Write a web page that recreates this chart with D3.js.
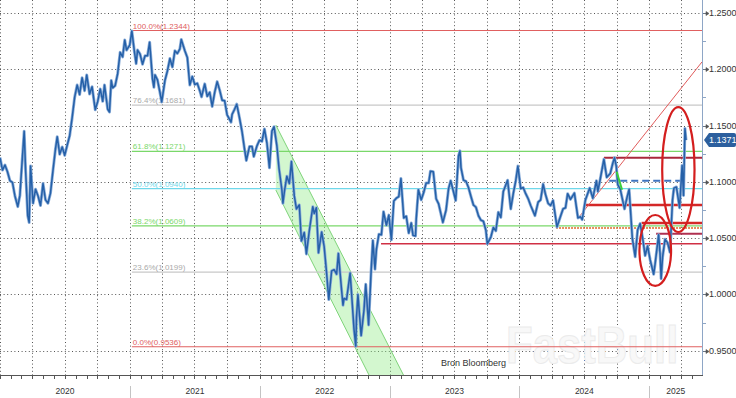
<!DOCTYPE html>
<html>
<head>
<meta charset="utf-8">
<script src="https://cdn.jsdelivr.net/npm/d3@7"></script>
<style>
  body { margin: 0; background: #fff; }
  svg { display: block; font-family: "Liberation Sans", Arial, sans-serif; }
</style>
</head>
<body>
<div id="chart"></div>
<script>
// EUR/USD, weekly points (plus the obvious spikes)
const rates2020 = [
  ["2020-01-01",1.1215],["2020-01-08",1.1105],["2020-01-15",1.1150],["2020-01-22",1.1090],["2020-01-29",1.1010],
  ["2020-02-05",1.0995],["2020-02-12",1.0875],["2020-02-20",1.0780],["2020-02-26",1.0880],["2020-03-03",1.1170],
  ["2020-03-09",1.1450],["2020-03-13",1.1105],["2020-03-19",1.0700],["2020-03-23",1.0640],["2020-03-27",1.1140],
  ["2020-04-03",1.0810],["2020-04-10",1.0935],["2020-04-17",1.0875],["2020-04-24",1.0790],["2020-05-01",1.0985],
  ["2020-05-08",1.0840],["2020-05-15",1.0810],["2020-05-22",1.0900],["2020-05-29",1.1100],["2020-06-05",1.1290],
  ["2020-06-10",1.1400],["2020-06-17",1.1245],["2020-06-24",1.1310],["2020-07-01",1.1235],["2020-07-08",1.1325],
  ["2020-07-15",1.1410],["2020-07-22",1.1570],["2020-07-29",1.1750],["2020-08-05",1.1860],["2020-08-12",1.1775],
  ["2020-08-19",1.1925],["2020-08-26",1.1810],["2020-09-01",1.1950],["2020-09-09",1.1780],["2020-09-16",1.1845],
  ["2020-09-25",1.1640],["2020-10-02",1.1715],["2020-10-09",1.1825],["2020-10-16",1.1715],["2020-10-21",1.1860],
  ["2020-10-30",1.1645],["2020-11-04",1.1620],["2020-11-09",1.1900],["2020-11-13",1.1835],["2020-11-20",1.1855],
  ["2020-11-27",1.1960],["2020-12-04",1.2150],["2020-12-11",1.2110],["2020-12-17",1.2260],["2020-12-22",1.2170],
  ["2020-12-31",1.2215]
];
const rates2021 = [
  ["2021-01-06",1.2340],["2021-01-13",1.2160],["2021-01-18",1.2050],["2021-01-22",1.2170],["2021-01-29",1.2135],
  ["2021-02-05",1.2045],["2021-02-12",1.2120],["2021-02-19",1.2120],["2021-02-25",1.2240],["2021-03-05",1.1915],
  ["2021-03-09",1.1840],["2021-03-12",1.1950],["2021-03-19",1.1905],["2021-03-26",1.1795],["2021-03-31",1.1710],
  ["2021-04-09",1.1900],["2021-04-16",1.1985],["2021-04-23",1.2095],["2021-04-30",1.2020],["2021-05-07",1.2165],
  ["2021-05-14",1.2140],["2021-05-21",1.2180],["2021-05-25",1.2265],["2021-06-04",1.2165],["2021-06-11",1.2105],
  ["2021-06-18",1.1860],["2021-06-25",1.1935],["2021-07-02",1.1865],["2021-07-09",1.1875],["2021-07-16",1.1810],
  ["2021-07-21",1.1755],["2021-07-30",1.1870],["2021-08-06",1.1760],["2021-08-13",1.1795],["2021-08-20",1.1670],
  ["2021-08-27",1.1795],["2021-09-03",1.1890],["2021-09-10",1.1815],["2021-09-17",1.1725],["2021-09-24",1.1720],
  ["2021-10-01",1.1595],["2021-10-12",1.1530],["2021-10-15",1.1600],["2021-10-22",1.1645],["2021-10-28",1.1690],
  ["2021-11-05",1.1565],["2021-11-12",1.1445],["2021-11-19",1.1290],["2021-11-24",1.1190],["2021-12-03",1.1315],
  ["2021-12-10",1.1315],["2021-12-15",1.1225],["2021-12-24",1.1320],["2021-12-31",1.1370]
];
const rates2022 = [
  ["2022-01-07",1.1360],["2022-01-14",1.1470],["2022-01-21",1.1345],["2022-01-28",1.1125],["2022-02-04",1.1450],
  ["2022-02-10",1.1490],["2022-02-18",1.1320],["2022-02-24",1.1120],["2022-03-04",1.0930],["2022-03-07",1.0810],
  ["2022-03-11",1.0910],["2022-03-18",1.1050],["2022-03-25",1.0985],["2022-03-31",1.1180],["2022-04-08",1.0875],
  ["2022-04-14",1.0760],["2022-04-22",1.0795],["2022-04-28",1.0475],["2022-05-06",1.0550],["2022-05-12",1.0360],
  ["2022-05-20",1.0560],["2022-05-30",1.0780],["2022-06-03",1.0720],["2022-06-09",1.0770],["2022-06-15",1.0370],
  ["2022-06-24",1.0555],["2022-07-01",1.0425],["2022-07-08",1.0185],["2022-07-14",0.9955],["2022-07-22",1.0210],
  ["2022-07-29",1.0220],["2022-08-05",1.0180],["2022-08-10",1.0365],["2022-08-19",1.0040],["2022-08-23",0.9905],
  ["2022-08-26",0.9965],["2022-09-02",0.9955],["2022-09-12",1.0190],["2022-09-16",1.0015],["2022-09-23",0.9690],
  ["2022-09-28",0.9540],["2022-09-30",0.9800],["2022-10-04",0.9999],["2022-10-13",0.9635],["2022-10-21",0.9860],
  ["2022-10-26",1.0090],["2022-11-03",0.9730],["2022-11-10",1.0200],["2022-11-15",1.0480],["2022-11-21",1.0225],
  ["2022-11-25",1.0400],["2022-12-02",1.0535],["2022-12-09",1.0530],["2022-12-15",1.0735],["2022-12-23",1.0615],
  ["2022-12-30",1.0705]
];
const rates2023 = [
  ["2023-01-06",1.0485],["2023-01-13",1.0830],["2023-01-20",1.0855],["2023-01-27",1.0870],["2023-02-02",1.1030],
  ["2023-02-10",1.0680],["2023-02-17",1.0695],["2023-02-24",1.0545],["2023-03-03",1.0635],["2023-03-08",1.0525],
  ["2023-03-15",1.0520],["2023-03-17",1.0670],["2023-03-23",1.0930],["2023-03-31",1.0840],["2023-04-07",1.0905],
  ["2023-04-14",1.0990],["2023-04-21",1.0990],["2023-04-26",1.1095],["2023-05-04",1.1090],["2023-05-12",1.0850],
  ["2023-05-19",1.0805],["2023-05-31",1.0640],["2023-06-09",1.0750],["2023-06-16",1.0940],["2023-06-22",1.1010],
  ["2023-06-30",1.0910],["2023-07-06",1.0835],["2023-07-14",1.1230],["2023-07-18",1.1275],["2023-07-21",1.1125],
  ["2023-07-28",1.1015],["2023-08-04",1.1005],["2023-08-11",1.0950],["2023-08-18",1.0870],["2023-08-25",1.0795],
  ["2023-09-01",1.0775],["2023-09-08",1.0700],["2023-09-15",1.0660],["2023-09-22",1.0650],["2023-09-29",1.0570],
  ["2023-10-03",1.0450],["2023-10-13",1.0510],["2023-10-20",1.0595],["2023-10-27",1.0565],["2023-11-03",1.0730],
  ["2023-11-10",1.0685],["2023-11-17",1.0915],["2023-11-29",1.1015],["2023-12-08",1.0760],["2023-12-15",1.0895],
  ["2023-12-22",1.1010],["2023-12-28",1.1140]
];
const rates2024 = [
  ["2024-01-05",1.0940],["2024-01-12",1.0950],["2024-01-19",1.0895],["2024-01-26",1.0850],["2024-02-02",1.0790],
  ["2024-02-14",1.0700],["2024-02-23",1.0820],["2024-03-01",1.0840],["2024-03-08",1.0980],["2024-03-15",1.0885],
  ["2024-03-22",1.0810],["2024-03-29",1.0790],["2024-04-05",1.0835],["2024-04-16",1.0600],["2024-04-26",1.0695],
  ["2024-05-03",1.0760],["2024-05-10",1.0770],["2024-05-16",1.0895],["2024-05-24",1.0845],["2024-06-04",1.0900],
  ["2024-06-14",1.0680],["2024-06-21",1.0690],["2024-06-26",1.0665],["2024-07-05",1.0840],["2024-07-17",1.0945],
  ["2024-07-26",1.0855],["2024-08-05",1.1010],["2024-08-09",1.0915],["2024-08-16",1.1030],["2024-08-26",1.1200],
  ["2024-09-03",1.1040],["2024-09-13",1.1075],["2024-09-20",1.1165],["2024-09-25",1.1215],["2024-09-30",1.1135],
  ["2024-10-04",1.0975],["2024-10-11",1.0935],["2024-10-23",1.0760],["2024-10-30",1.0860],["2024-11-05",1.0935],
  ["2024-11-14",1.0500],["2024-11-22",1.0335],["2024-11-29",1.0575],["2024-12-06",1.0630],["2024-12-13",1.0500],
  ["2024-12-20",1.0345],["2024-12-27",1.0430]
];
const rates2025 = [
  ["2025-01-03",1.0310],["2025-01-13",1.0180],["2025-01-17",1.0270],["2025-01-27",1.0530],["2025-01-31",1.0360],
  ["2025-02-03",1.0140],["2025-02-07",1.0330],["2025-02-14",1.0490],["2025-02-21",1.0460],["2025-02-28",1.0375],
  ["2025-03-07",1.0835],["2025-03-11",1.0945],["2025-03-18",1.0955],["2025-03-27",1.0770],["2025-04-03",1.1145],
  ["2025-04-07",1.0880],["2025-04-11",1.1475],["2025-04-14",1.1371]
];

// Fibonacci retracement 0.9536 -> 1.2344
const fibLabels = ["100.0%", "76.4%", "61.8%", "50.0%", "38.2%", "23.6%", "0.0%"];
const fibValues = [1.2344, 1.1681, 1.1271, 1.0940, 1.0609, 1.0199, 0.9536];
const fibColors = ["#e06060", "#c8c8c8", "#7ad86a", "#6fd8ea", "#7ad86a", "#c8c8c8", "#e06060"];
const fibStart = "2021-01-06";

const yTicks = [0.95, 1.00, 1.05, 1.10, 1.15, 1.20, 1.25];
const years = ["2020", "2021", "2022", "2023", "2024", "2025"];
const lastPrice = 1.1371;

// 手绘的水平线: [start, end, value, colour, width, dash]
const hLines = [
  ["2024-08-26", "2025-05-29", 1.1214, "#a8283c", 2, null],
  ["2024-09-10", "2025-04-14", 1.1010, "#3f74c0", 2, "7,4"],
  ["2024-07-01", "2025-05-29", 1.0795, "#d42828", 2.5, null],
  ["2024-12-10", "2025-05-29", 1.0635, "#d42828", 2.5, null],
  ["2024-04-14", "2025-05-29", 1.0590, "#e06a30", 2, "1.5,1.5"],
  ["2025-01-20", "2025-05-29", 1.0540, "#b03050", 2, null],
  ["2022-12-08", "2025-05-29", 1.0450, "#d03044", 1.5, null]
];
// green down channel: upper edge and lower edge
const channelTop = [["2022-02-15", 1.1505], ["2023-02-12", 0.9267]];
const channelBottom = [["2022-02-15", 1.0928], ["2022-11-07", 0.9267]];
// thin red up-trend line
const trendLine = [["2024-06-15", 1.0680], ["2025-05-29", 1.2065]];
const greenMark = [["2024-10-01", 1.1090], ["2024-10-16", 1.0930]];
// ellipses as boxes [date from, date to, top value, bottom value]
const ellipses = [
  ["2025-02-06", "2025-05-08", 1.1664, 1.0555],
  ["2024-12-04", "2025-03-03", 1.0706, 1.0076]
];

const W = 736, H = 398;
const plotW = 702, plotH = 375;
const parse = d3.timeParse("%Y-%m-%d");

const data = [...rates2020, ...rates2021, ...rates2022, ...rates2023, ...rates2024, ...rates2025]
  .map(d => ({date: parse(d[0]), value: d[1]}));

const x = d3.scaleTime()
  .domain([parse("2020-01-01"), parse("2025-05-29")])
  .range([0, plotW]);
const y = d3.scaleLinear()
  .domain([0.9285, 1.2615])
  .range([plotH, 0]);

const svg = d3.select("#chart").append("svg")
  .attr("width", W)
  .attr("height", H);

svg.append("defs").append("clipPath").attr("id", "plot")
  .append("rect").attr("width", plotW).attr("height", plotH);

// 网格 (dotted)
const grid = svg.append("g");
grid.selectAll(".hg").data(yTicks).join("line")
  .attr("x1", 0).attr("x2", plotW)
  .attr("y1", d => Math.round(y(d)) + 0.5).attr("y2", d => Math.round(y(d)) + 0.5)
  .attr("stroke", "#555").attr("stroke-dasharray", "1,2.6");
grid.selectAll(".vg").data(x.ticks(d3.timeMonth.every(3))).join("line")
  .attr("x1", d => Math.round(x(d)) + 0.5).attr("x2", d => Math.round(x(d)) + 0.5)
  .attr("y1", 0).attr("y2", plotH)
  .attr("stroke", "#555").attr("stroke-dasharray", "1,2.6");

// watermark (behind everything else), squeezed horizontally
svg.append("text")
  .attr("transform", "translate(506,363) scale(0.84,1)")
  .attr("font-size", 52).attr("font-weight", "bold")
  .attr("fill", "#f8f8f8").attr("stroke", "#ebebeb").attr("stroke-width", 1)
  .text("FastBull");

const plot = svg.append("g").attr("clip-path", "url(#plot)");

// 通道
const pt = p => [x(parse(p[0])), y(p[1])];
const chan = [pt(channelTop[0]), pt(channelTop[1]), pt(channelBottom[1]), pt(channelBottom[0])];
plot.append("path")
  .attr("d", "M" + chan.join("L") + "Z")
  .attr("fill", "rgba(140,235,130,0.38)");
[channelTop, channelBottom].forEach(function (c) {
  plot.append("line")
    .attr("x1", pt(c[0])[0]).attr("y1", pt(c[0])[1])
    .attr("x2", pt(c[1])[0]).attr("y2", pt(c[1])[1])
    .attr("stroke", "#7fd47a").attr("stroke-width", 1);
});

// fib lines + labels
const fx0 = x(parse(fibStart));
fibValues.forEach(function (v, i) {
  plot.append("line")
    .attr("x1", fx0).attr("x2", plotW)
    .attr("y1", y(v)).attr("y2", y(v))
    .attr("stroke", fibColors[i]).attr("stroke-width", 1.2);
  plot.append("text")
    .attr("x", fx0 + 1).attr("y", y(v) - 2)
    .attr("font-size", 8)
    .attr("fill", fibColors[i] === "#c8c8c8" ? "#aaa" : fibColors[i])
    .text(fibLabels[i] + "(" + v.toFixed(4) + ")");
});

// horizontal levels
plot.selectAll(".lvl").data(hLines).join("line")
  .attr("x1", d => x(parse(d[0]))).attr("x2", d => x(parse(d[1])))
  .attr("y1", d => y(d[2])).attr("y2", d => y(d[2]))
  .attr("stroke", d => d[3]).attr("stroke-width", d => d[4])
  .attr("stroke-dasharray", d => d[5]);

plot.append("line")
  .attr("x1", pt(trendLine[0])[0]).attr("y1", pt(trendLine[0])[1])
  .attr("x2", pt(trendLine[1])[0]).attr("y2", pt(trendLine[1])[1])
  .attr("stroke", "#e05a5a").attr("stroke-width", 1);

// price line
const line = d3.line().x(d => x(d.date)).y(d => y(d.value));
plot.append("path").datum(data)
  .attr("d", line).attr("fill", "none")
  .attr("stroke", "#8fb0da").attr("stroke-width", 3).attr("stroke-linejoin", "round");
plot.append("path").datum(data)
  .attr("d", line).attr("fill", "none")
  .attr("stroke", "#2560a8").attr("stroke-width", 1.5).attr("stroke-linejoin", "round");

plot.append("line")
  .attr("x1", pt(greenMark[0])[0]).attr("y1", pt(greenMark[0])[1])
  .attr("x2", pt(greenMark[1])[0]).attr("y2", pt(greenMark[1])[1])
  .attr("stroke", "#3ccf3c").attr("stroke-width", 2);

// 红圈
plot.selectAll(".ell").data(ellipses).join("ellipse")
  .attr("cx", d => (x(parse(d[0])) + x(parse(d[1]))) / 2)
  .attr("cy", d => (y(d[2]) + y(d[3])) / 2)
  .attr("rx", d => (x(parse(d[1])) - x(parse(d[0]))) / 2)
  .attr("ry", d => (y(d[3]) - y(d[2])) / 2)
  .attr("fill", "none").attr("stroke", "#d41e1e").attr("stroke-width", 2.2);

svg.append("text")
  .attr("x", 441).attr("y", 366)
  .attr("font-size", 9).attr("fill", "#333")
  .text("Bron Bloomberg");

// axes frame
svg.append("line")
  .attr("x1", plotW + 0.5).attr("x2", plotW + 0.5).attr("y1", 0).attr("y2", plotH)
  .attr("stroke", "#8ea6c6");
svg.append("line")
  .attr("x1", 0).attr("x2", plotW + 1).attr("y1", plotH + 0.5).attr("y2", plotH + 0.5)
  .attr("stroke", "#555");

// right axis
const yAxis = svg.append("g").attr("transform", "translate(" + (plotW + 1) + ",0)");
const minor = d3.range(0.925, 1.26, 0.025).filter(v => v > y.domain()[0] && v < y.domain()[1]);
yAxis.selectAll(".mt").data(minor).join("line")
  .attr("x1", 0).attr("x2", 3)
  .attr("y1", d => Math.round(y(d)) + 0.5).attr("y2", d => Math.round(y(d)) + 0.5)
  .attr("stroke", "#8ea6c6");
yAxis.selectAll(".tk").data(yTicks).join("path")
  .attr("d", d => { const yy = Math.round(y(d)) + 0.5; return "M0," + yy + "H3M3," + (yy - 2) + "L6," + yy + "L3," + (yy + 2) + "Z"; })
  .attr("fill", "#555").attr("stroke", "#555").attr("stroke-width", 0.6);
yAxis.selectAll(".tl").data(yTicks).join("text")
  .attr("x", 6).attr("y", d => y(d) + 3)
  .attr("font-size", 9).attr("fill", "#333")
  .text(d => d.toFixed(4));

// last price tag
const ly = y(lastPrice);
yAxis.append("path")
  .attr("d", "M1," + ly + "L6," + (ly - 7) + "H31a2,2 0 0 1 2,2V" + (ly + 5) + "a2,2 0 0 1 -2,2H6Z")
  .attr("fill", "#2c5f9e");
yAxis.append("text")
  .attr("x", 6).attr("y", ly + 3)
  .attr("font-size", 9).attr("fill", "#fff")
  .text(lastPrice.toFixed(4));

// bottom axis: month ticks, year separators, year labels
const xAxis = svg.append("g");
xAxis.selectAll(".mt").data(x.ticks(d3.timeMonth.every(1))).join("line")
  .attr("x1", d => Math.round(x(d)) + 0.5).attr("x2", d => Math.round(x(d)) + 0.5)
  .attr("y1", plotH).attr("y2", plotH + 4)
  .attr("stroke", "#555");
const yearStarts = years.map(s => parse(s + "-01-01"));
xAxis.selectAll(".ys").data(yearStarts.slice(1)).join("line")
  .attr("x1", d => Math.round(x(d)) + 0.5).attr("x2", d => Math.round(x(d)) + 0.5)
  .attr("y1", plotH + 11).attr("y2", H)
  .attr("stroke", "#c4c4c4");
xAxis.selectAll(".yl").data(years).join("text")
  .attr("x", (d, i) => {
    const a = x(yearStarts[i]);
    const b = i < years.length - 1 ? x(yearStarts[i + 1]) : plotW;
    return (a + b) / 2;
  })
  .attr("y", 394)
  .attr("text-anchor", "middle")
  .attr("font-size", 8.5).attr("fill", "#333")
  .text(d => d);
</script>
</body>
</html>
